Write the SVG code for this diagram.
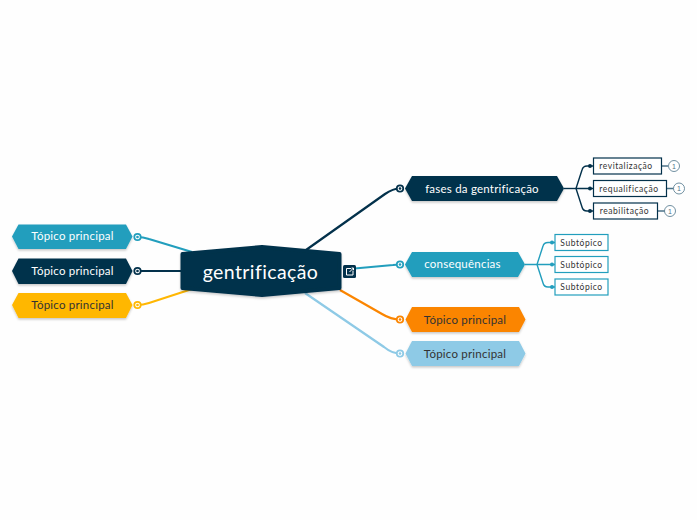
<svg xmlns="http://www.w3.org/2000/svg" width="697" height="520" viewBox="0 0 697 520">
<defs>
<filter id="sh" x="-10%" y="-20%" width="120%" height="150%"><feDropShadow dx="0" dy="1.500" stdDeviation="1" flood-color="#000" flood-opacity="0.22"/></filter>
<g id="ring"><circle r="3.200" fill="#fff" stroke="currentColor" stroke-width="1.800"/><circle r="1.300" fill="currentColor"/></g>
</defs>
<style>
text{font-family:"Lato","Noto Sans",sans-serif}
.t{font-size:11.500px;letter-spacing:.22px;text-anchor:middle}
.s{font-size:8.500px;letter-spacing:.55px;fill:#333;text-anchor:middle}
.n{font-size:7px;fill:#4d7389;text-anchor:middle;font-family:"Liberation Sans",sans-serif}
.c{fill:none;stroke-width:2.200}
.f{fill:none;stroke-width:1.400}
</style>
<rect width="697" height="520" fill="#fefefe"/>
<g id="connectors">
<path class="c" stroke="#03314b" d="M306 250L385 194Q393 188.500 400 188.500"/>
<path class="c" stroke="#229ebd" d="M349 269L393 265Q396 264.500 400 264.500"/>
<path class="c" stroke="#fb8500" d="M340 290L382 314Q391 319.500 400 319.500"/>
<path class="c" stroke="#8ecae6" d="M305 293L384 347Q392 353.500 400 353.500"/>
<path class="c" stroke="#229ebd" d="M192 252L149 239Q143 237 137 237"/>
<path class="c" stroke="#03314b" d="M182 271L137 271"/>
<path class="c" stroke="#ffb703" d="M192 289L149 303Q143 305 137 305"/>
<path class="f" stroke="#03314b" stroke-width="2" d="M564 188.500H576"/>
<path class="f" stroke="#03314b" d="M576 188.500L582 170Q583 166 587 166H593M576 188.500H593M576 188.500L582 207Q583 211 587 211H593"/>
<path class="f" stroke="#229ebd" d="M525 264.500H537L543 246Q544 242.500 548 242.500H555M537 264.500H555M537 264.500L543 283Q544 287 548 287H555"/>
<path class="f" stroke="#4d7389" stroke-width="1" d="M662 166H668M667 188.500H674M658 211H665"/>
<g fill="#03314b"><circle cx="590" cy="166" r="2"/><circle cx="590" cy="188.500" r="2"/><circle cx="590" cy="211" r="2"/></g>
<g fill="#229ebd"><circle cx="552" cy="242.500" r="2"/><circle cx="552" cy="264.500" r="2"/><circle cx="552" cy="287" r="2"/></g>
</g>
<g id="root">
<path filter="url(#sh)" fill="#03314b" stroke="#03314b" stroke-width="4" stroke-linejoin="round" d="M182.500 254L262 247L339.500 254V288L262 295L182.500 288Z"/>
<text x="260.500" y="279" font-size="19.500" letter-spacing=".4" fill="#fff" text-anchor="middle">gentrificação</text>
<rect x="343" y="265" width="13" height="13" rx="1.500" fill="#03314b"/>
<path fill="none" stroke="#fff" stroke-width="1" d="M351 268.500H346.500V275H353V270.500M349.500 272L353.500 268M351.500 268H353.500V270"/>
</g>
<g id="n1">
<use href="#ring" x="400" y="188.500" color="#03314b"/>
<path filter="url(#sh)" fill="#03314b" d="M405 188.500L412 176H557L564 188.500L557 201H412Z"/>
<text class="t" x="482" y="192.500" fill="#fff">fases da gentrificação</text>
</g>
<g id="n2">
<use href="#ring" x="400" y="264.500" color="#229ebd"/>
<path filter="url(#sh)" fill="#229ebd" d="M405 264.500L412 252H518L525 264.500L518 277H412Z"/>
<text class="t" x="462.500" y="268" fill="#fff">consequências</text>
</g>
<g id="n3">
<use href="#ring" x="400" y="319.500" color="#fb8500"/>
<path filter="url(#sh)" fill="#fb8500" d="M405.500 319.500L412 307H519L525.500 319.500L519 332H412Z"/>
<text class="t" x="465" y="323.500" fill="#333">Tópico principal</text>
</g>
<g id="n4">
<use href="#ring" x="400" y="353.500" color="#8ecae6"/>
<path filter="url(#sh)" fill="#8ecae6" d="M405.500 353.500L412 341H519L525.500 353.500L519 366H412Z"/>
<text class="t" x="465" y="358" fill="#333">Tópico principal</text>
</g>
<g id="l1">
<use href="#ring" x="137.500" y="237" color="#229ebd"/>
<path filter="url(#sh)" fill="#229ebd" d="M12 236.500L18.500 224.500H126L132.500 236.500L126 249H18.500Z"/>
<text class="t" x="72.500" y="240" fill="#fff">Tópico principal</text>
</g>
<g id="l2">
<use href="#ring" x="137.500" y="271" color="#03314b"/>
<path filter="url(#sh)" fill="#03314b" d="M12 271L18.500 258.500H126L132.500 271L126 284H18.500Z"/>
<text class="t" x="72.500" y="275" fill="#fff">Tópico principal</text>
</g>
<g id="l3">
<use href="#ring" x="137.500" y="305" color="#ffb703"/>
<path filter="url(#sh)" fill="#ffb703" d="M12 305L18.500 293H126L132.500 305L126 318H18.500Z"/>
<text class="t" x="72.500" y="309" fill="#333">Tópico principal</text>
</g>
<g id="s1">
<rect x="593.500" y="158" width="68" height="16" fill="#fff" stroke="#03314b" stroke-width="1.200"/>
<text class="s" x="626" y="169">revitalização</text>
<circle cx="674" cy="166" r="5.500" fill="#fff" stroke="#4d7389" stroke-width=".8"/><text class="n" x="674" y="168.500">1</text>
</g>
<g id="s2">
<rect x="593.500" y="180.500" width="73" height="16" fill="#fff" stroke="#03314b" stroke-width="1.200"/>
<text class="s" x="629" y="192">requalificação</text>
<circle cx="679" cy="188.500" r="5.500" fill="#fff" stroke="#4d7389" stroke-width=".8"/><text class="n" x="679" y="191">1</text>
</g>
<g id="s3">
<rect x="593.500" y="203" width="64" height="16" fill="#fff" stroke="#03314b" stroke-width="1.200"/>
<text class="s" x="624.500" y="214">reabilitação</text>
<circle cx="670" cy="211" r="5.500" fill="#fff" stroke="#4d7389" stroke-width=".8"/><text class="n" x="670" y="213.500">1</text>
</g>
<g id="s4"><rect x="555" y="234.500" width="53" height="16" fill="#fff" stroke="#229ebd" stroke-width="1.200"/><text class="s" x="581.500" y="245.500">Subtópico</text></g>
<g id="s5"><rect x="555" y="256.500" width="53" height="16" fill="#fff" stroke="#229ebd" stroke-width="1.200"/><text class="s" x="581.500" y="268">Subtópico</text></g>
<g id="s6"><rect x="555" y="279" width="53" height="16" fill="#fff" stroke="#229ebd" stroke-width="1.200"/><text class="s" x="581.500" y="290">Subtópico</text></g>
</svg>
